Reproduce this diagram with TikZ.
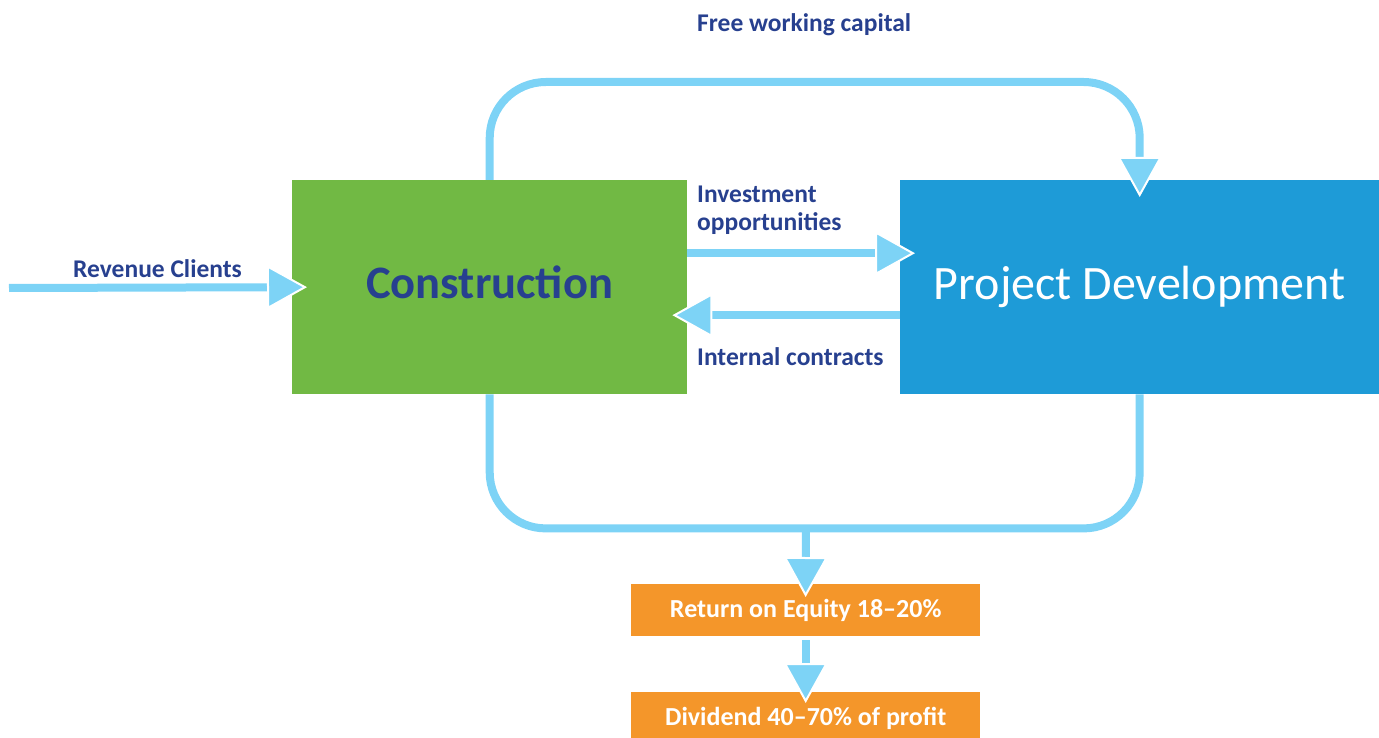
\documentclass[tikz,border=0pt]{standalone}
\usepackage{fontspec}
\setmainfont{Carlito}
\usetikzlibrary{arrows.meta,positioning}

\definecolor{buildgreen}{HTML}{71B944}
\definecolor{devblue}{HTML}{1E9BD7}
\definecolor{payorange}{HTML}{F4962A}
\definecolor{flow}{HTML}{7DD3F6}
\definecolor{navy}{HTML}{27408F}

\begin{document}
\begin{tikzpicture}[x=1pt, y=-1pt,
    >={Triangle[length=40pt,width=44pt,fill=flow,color=white,line width=2pt]},
    flowline/.style={draw=flow, line width=8pt},
    bigbox/.style={minimum width=#1, minimum height=214pt, inner sep=0pt, anchor=north west},
    paybox/.style={fill=payorange, minimum width=349pt, minimum height=52pt, inner sep=0pt,
      anchor=north west, text=white, font=\fontsize{26}{28}\selectfont\bfseries},
    label/.style={inner sep=0pt, text=navy, font=\fontsize{25.5}{28}\selectfont\bfseries}]

\useasboundingbox (0,0) rectangle (1379,738);

\node [bigbox=395pt, fill=buildgreen, text=navy, text depth=10pt,
  font=\fontsize{46.5}{50}\selectfont\bfseries]
  (con) at (292,180) {Construction};
\node [bigbox=479pt, fill=devblue, text=white, font=\fontsize{48}{50}\selectfont]
  (pd) at (900,180) {Project Development};

\node [paybox] (ret) at (631,584) {Return on Equity 18--20\%};
\node [paybox] (div) at (631,692) {Dividend 40--70\% of profit};

\coordinate (revin) at (9,288);
\coordinate (pool) at (806,528);

\draw [flowline, ->, shorten >=-15pt] (revin) -- (con.west);
\draw [flowline, ->, shorten >=-15pt] ([yshift=34pt]con.east) -- ([yshift=34pt]pd.west);
\draw [flowline, ->, shorten >=-15pt] ([yshift=-28pt]pd.west) -- ([yshift=-28pt]con.east);

\draw [flowline, ->, rounded corners=56pt, shorten >=-17pt]
  (con.north) -- ++(0,-98) -| (pd.north);
\draw [flowline, rounded corners=56pt]
  (con.south) -- ++(0,134) -| (pd.south);

\draw [flowline, ->, shorten >=-13pt] (pool) -- (ret.north);
\draw [flowline, ->, shorten <=4pt, shorten >=-11pt] (ret.south) -- (div.north);

\node [label, anchor=base west] (free) at (697,32) {Free working capital};
\node [label, anchor=base west] (rev) at (73,277) {Revenue Clients};
\node [label, anchor=base west] (inv) at (697,203) {Investment};
\node [label, anchor=base west] (opp) at (697,231) {opportunities};
\node [label, anchor=base west] (int) at (697,365) {Internal contracts};

\end{tikzpicture}
\end{document}
